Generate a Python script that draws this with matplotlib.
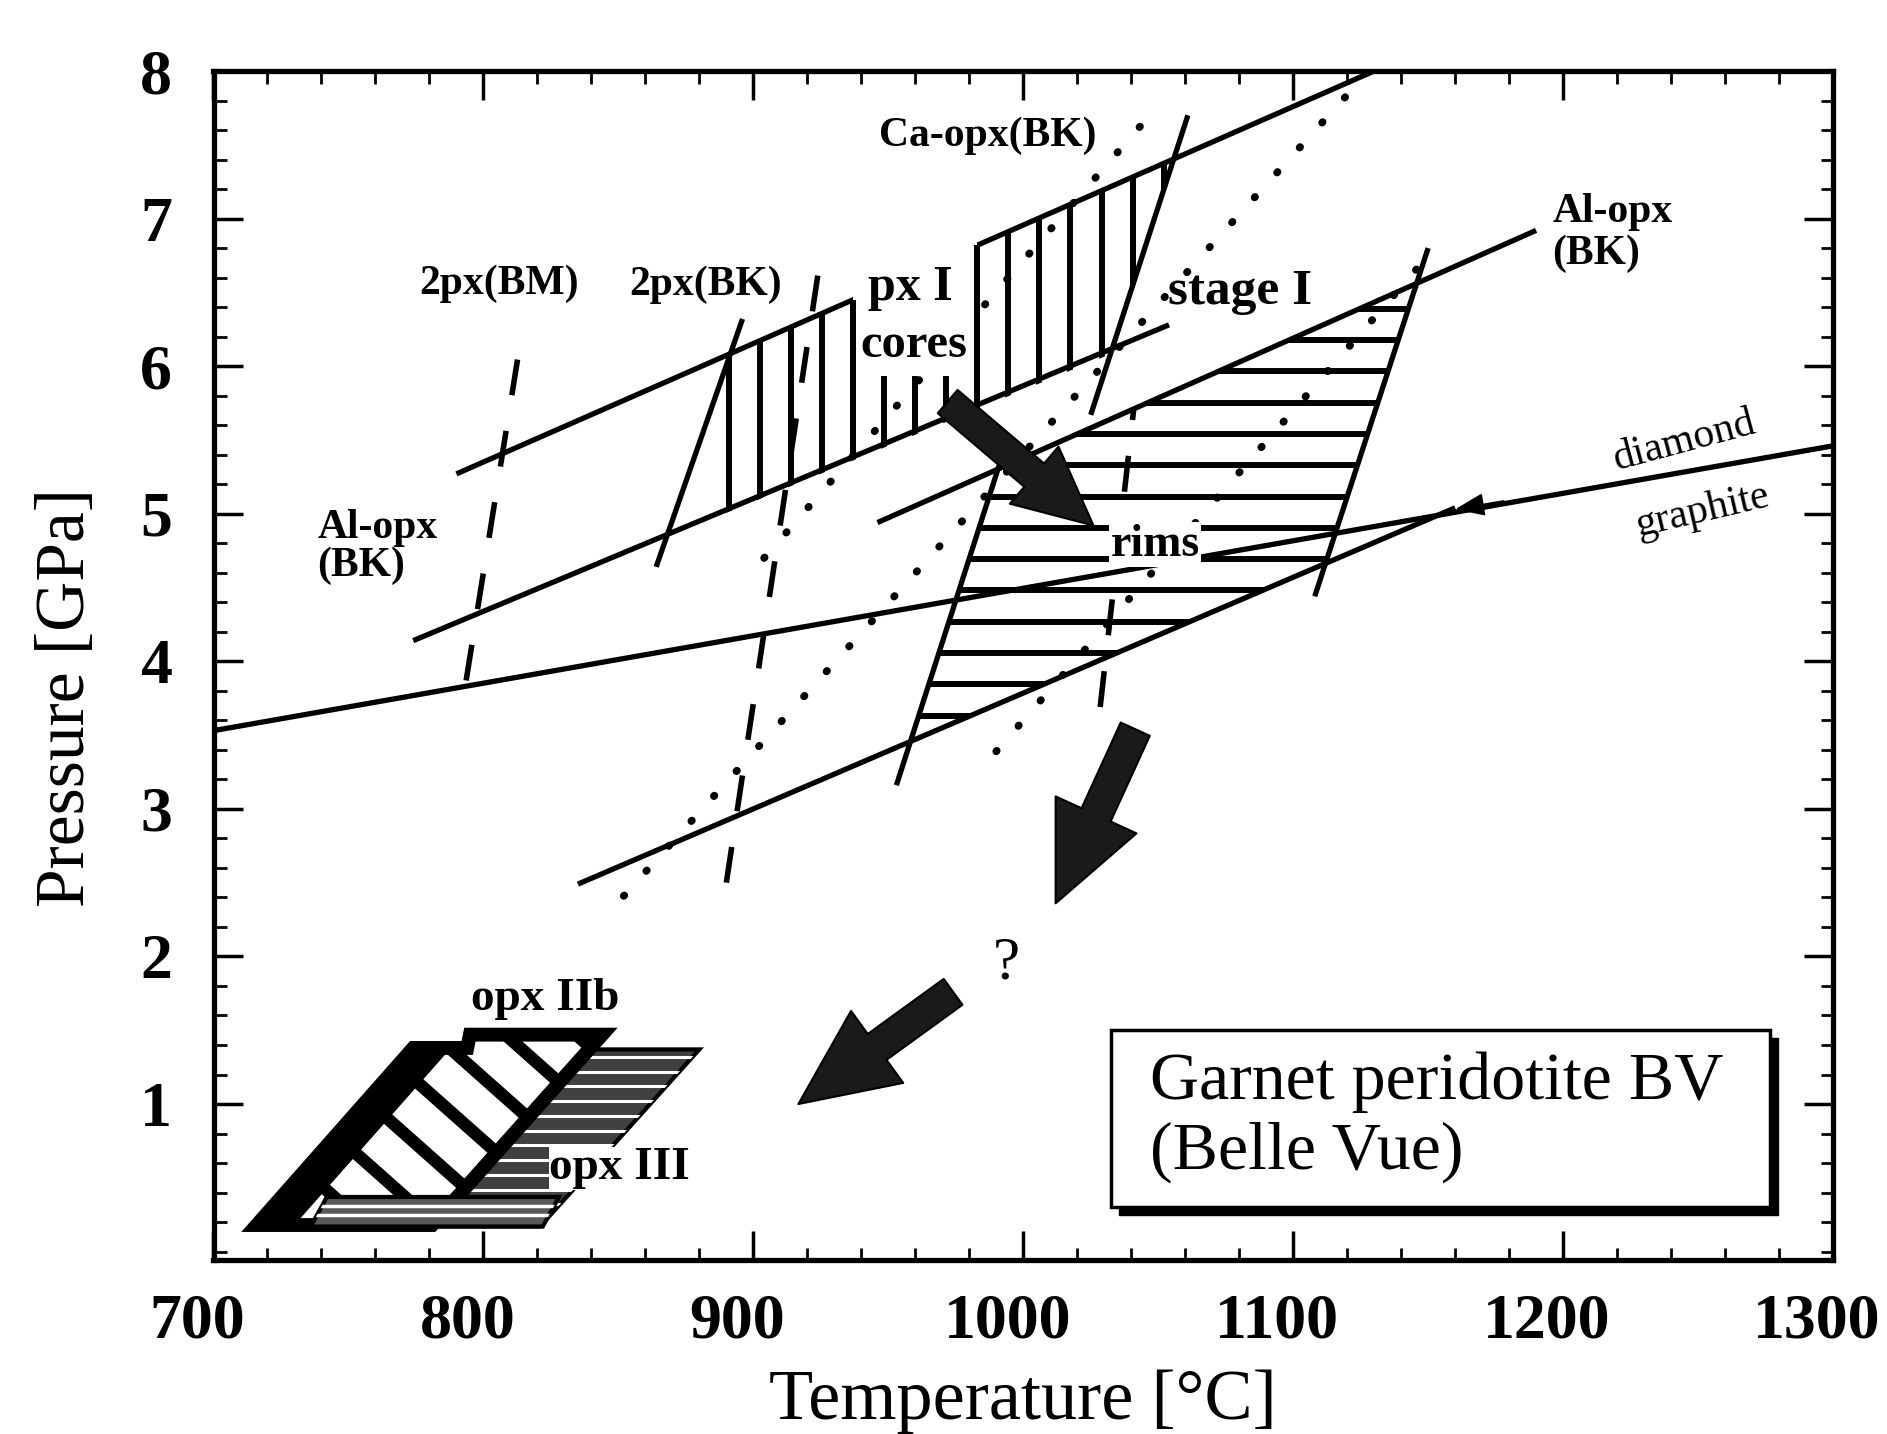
import numpy as np
import matplotlib
matplotlib.use('Agg')
import matplotlib.pyplot as plt
import matplotlib.transforms as mtransforms
from matplotlib.patches import Polygon, Rectangle
from matplotlib.ticker import MultipleLocator

plt.rcParams['font.family'] = ['Liberation Serif', 'DejaVu Serif']

# ---------------- data (T in degC, P in GPa) ----------------
x_ticks = [700, 800, 900, 1000, 1100, 1200, 1300]
y_ticks = [1, 2, 3, 4, 5, 6, 7, 8]

graphite_T = [700, 1300];       graphite_P = [3.53, 5.46]
alopx1_T = [790, 1130];         alopx1_P = [5.27, 8.0]
alopx2_T = [774, 1054];         alopx2_P = [4.14, 6.28]
alopx3_T = [946, 1190];         alopx3_P = [4.94, 6.92]
alopx4_T = [835, 1160];         alopx4_P = [2.49, 5.04]
twopx_bk_T = [864, 896];        twopx_bk_P = [4.64, 6.32]
caopx_T = [1025, 1061];         caopx_P = [5.67, 7.70]
steepL_T = [953, 992];          steepL_P = [3.16, 5.38]
steepR_T = [1108, 1150];        steepR_P = [4.44, 6.80]

dash_bm_T = [793.6, 814.7];     dash_bm_P = [3.87, 6.28]
dash_bk_T = [890, 925];         dash_bk_P = [2.50, 6.75]
dash_rim_T = [1028.5, 1041];    dash_rim_P = [3.69, 5.72]

dotB_T = [852, 1128];           dotB_P = [2.41, 8.0]
dotE_T = [990, 1153];           dotE_P = [3.39, 6.81]
dotF_T = [904, 1045];           dotF_P = [4.70, 7.66]

# hatched fields
pxI_T = [868, 891, 1056, 1032];         pxI_P = [4.84, 6.08, 7.40, 6.08]
stageI_T = [958, 990.6, 1145.6, 1112];  stageI_P = [3.46, 5.30, 6.55, 4.66]
cores_gap_T = [937, 983];               cores_gap_P = [5.93, 7.2]
cores_gap_top = [6.45, 6.82]

opx2b_T = [716, 774, 794, 795, 844, 781]; opx2b_P = [0.18, 1.38, 1.38, 1.47, 1.47, 0.18]
opx3_T = [738, 821, 880, 797];            opx3_P = [0.17, 0.17, 1.37, 1.37]
opx3s_T = [736, 822, 828, 742];           opx3s_P = [0.17, 0.17, 0.37, 0.37]

# arrows: (tail T, tail P, tip T, tip P)
arrow1 = (972, 5.76, 1026, 4.92)
arrow2 = (1041.5, 3.54, 1012, 2.36)
arrow3 = (974, 1.76, 916.7, 1.0)
small_arrow = (1178, 5.085, 1160, 5.03)

bold_labels = ["2px(BM)", "2px(BK)", "Ca-opx(BK)", "px I", "cores", "stage I",
               "rims", "opx IIb", "opx III"]
bold_T = [805.8, 882.4, 987.0, 958.3, 959.5, 1080.4, 1048.8, 823, 850.5]
bold_P = [6.56, 6.55, 7.56, 6.53, 6.14, 6.50, 4.79, 1.71, 0.565]
bold_size = [30, 30, 30, 36, 35, 37, 33, 34, 34]

# ---------------- figure ----------------
fig = plt.figure(figsize=(18.87, 14.34), dpi=100)
ax = fig.add_axes([213.5/1887, 1-1260/1434, 1619.5/1887, 1189/1434])
ax.set_xlim(700, 1300)
ax.set_ylim(-0.057, 8.0)

LW = 3.8
HLW = 4.3


def clip_segs(patch, segs, **kw):
    for (a, b) in segs:
        ln, = ax.plot([a[0], b[0]], [a[1], b[1]], solid_capstyle='butt', **kw)
        ln.set_clip_path(patch)


def diag_segs(verts, angle_deg, spacing):
    pts = ax.transData.transform(verts)
    c = pts.mean(axis=0)
    R = np.max(np.hypot(*(pts - c).T)) * 1.5
    a = np.radians(angle_deg)
    d = np.array([np.cos(a), np.sin(a)])
    n = np.array([-d[1], d[0]])
    inv = ax.transData.inverted()
    segs = []
    m = int(R / spacing) + 2
    for k in range(-m, m + 1):
        p0 = c + n * k * spacing - d * R
        p1 = c + n * k * spacing + d * R
        q = inv.transform([p0, p1])
        segs.append((q[0], q[1]))
    return segs


# --- px I field (vertical hatch) ---
pxI = Polygon(list(zip(pxI_T, pxI_P)), closed=True, fc='none', ec='none', zorder=2)
ax.add_patch(pxI)
vT = np.arange(891, 1060, 11.5)
clip_segs(pxI, [((t, 0), (t, 8)) for t in vT], color='black', lw=HLW, zorder=2)

# --- stage I / rims field (horizontal hatch) ---
stI = Polygon(list(zip(stageI_T, stageI_P)), closed=True, fc='none', ec='none', zorder=2)
ax.add_patch(stI)
hP = np.arange(3.42, 6.7, 0.212)
clip_segs(stI, [((700, p), (1300, p)) for p in hP], color='black', lw=HLW, zorder=2)

# --- solid lines ---
for T, P in [(graphite_T, graphite_P), (alopx1_T, alopx1_P), (alopx2_T, alopx2_P),
             (alopx3_T, alopx3_P), (alopx4_T, alopx4_P), (twopx_bk_T, twopx_bk_P),
             (caopx_T, caopx_P), (steepL_T, steepL_P), (steepR_T, steepR_P)]:
    ax.plot(T, P, color='black', lw=LW, solid_capstyle='butt', zorder=3)

# --- dashed lines ---
for T, P in [(dash_bm_T, dash_bm_P), (dash_bk_T, dash_bk_P), (dash_rim_T, dash_rim_P)]:
    ax.plot(T, P, color='black', lw=4.0, linestyle=(0, (6.5, 6.5)), dash_capstyle='butt', zorder=3)

# --- dotted lines ---
for T, P in [(dotB_T, dotB_P), (dotE_T, dotE_P), (dotF_T, dotF_P)]:
    ax.plot(T, P, color='black', lw=5.5, linestyle=(0, (0.1, 4.3)), dash_capstyle='round', zorder=3)

# --- white gap for px I / cores labels ---
ax.add_patch(Rectangle((cores_gap_T[0], cores_gap_P[0]), cores_gap_T[1] - cores_gap_T[0],
                       cores_gap_P[1] - cores_gap_P[0], fc='white', ec='none', zorder=4))
for t, top in zip(cores_gap_T, cores_gap_top):
    ax.plot([t, t], [cores_gap_P[0], top], color='black', lw=HLW, solid_capstyle='butt', zorder=4)

# --- labels ---
for s, t, p, fs in zip(bold_labels, bold_T, bold_P, bold_size):
    kw = {}
    z = 5
    if s == "rims":
        kw['bbox'] = dict(fc='white', ec='none', pad=1)
    if s == "opx III":
        kw['bbox'] = dict(fc='white', ec='none', pad=0.5)
        z = 12
    ax.text(t, p, s, ha='center', va='center', fontsize=fs, fontweight='bold', zorder=z, **kw)

ax.text(738.5, 4.90, "Al-opx", ha='left', va='center', fontsize=30, fontweight='bold', zorder=5)
ax.text(738.5, 4.645, "(BK)", ha='left', va='center', fontsize=30, fontweight='bold', zorder=5)
ax.text(1196, 7.045, "Al-opx", ha='left', va='center', fontsize=30, fontweight='bold', zorder=5)
ax.text(1196, 6.76, "(BK)", ha='left', va='center', fontsize=30, fontweight='bold', zorder=5)
ax.text(1244.8, 5.49, "diamond", ha='center', va='center', fontsize=30, rotation=15, zorder=5)
ax.text(1251.7, 5.02, "graphite", ha='center', va='center', fontsize=30, rotation=13, zorder=5)
ax.text(993.8, 1.95, "?", ha='center', va='center', fontsize=44, zorder=5)

# --- arrows ---
for (t0, p0, t1, p1), hl, hw, tw in [(arrow1, 2.8, 2.7, 1.1), (arrow2, 3.5, 3.2, 1.15),
                                     (arrow3, 3.5, 3.2, 1.15)]:
    ax.annotate('', xy=(t1, p1), xytext=(t0, p0), zorder=6,
                arrowprops=dict(arrowstyle=f"simple,head_length={hl},head_width={hw},tail_width={tw}",
                                mutation_scale=20, fc='0.1', ec='black', lw=1.5,
                                shrinkA=0, shrinkB=0))
t0, p0, t1, p1 = small_arrow
ax.annotate('', xy=(t1, p1), xytext=(t0, p0), zorder=6,
            arrowprops=dict(arrowstyle="-|>,head_length=0.9,head_width=0.35", mutation_scale=20,
                            fc='black', ec='black', lw=1.5, shrinkA=0, shrinkB=0))

# --- opx III (horizontal grey stripes) ---
opx3 = Polygon(list(zip(opx3_T, opx3_P)), closed=True, fc='0.25', ec='black', lw=3, zorder=7)
ax.add_patch(opx3)
clip_segs(opx3, [((700, p), (900, p)) for p in np.arange(0.22, 1.4, 0.1)], color='white', lw=2.2, zorder=7)

# --- opx IIb (diagonal stripes, thick border) ---
verts2b = list(zip(opx2b_T, opx2b_P))
opx2b = Polygon(verts2b, closed=True, fc='white', ec='black', lw=10, zorder=8)
ax.add_patch(opx2b)
clip_segs(opx2b, diag_segs(verts2b, -41.6, 47), color='black', lw=9, zorder=8)
band = Polygon([(716, 0.18), (774, 1.38), (788, 1.38), (730, 0.18)], closed=True,
               fc='black', ec='none', zorder=8)
ax.add_patch(band)

# bottom strip of opx III in front
opx3s = Polygon(list(zip(opx3s_T, opx3s_P)), closed=True, fc='0.35', ec='black', lw=3, zorder=9)
ax.add_patch(opx3s)
clip_segs(opx3s, [((700, p), (900, p)) for p in [0.25, 0.31]], color='white', lw=2.5, zorder=9)

# --- sample box ---
ax.add_patch(Rectangle((1035.6, 0.245), 243.9, 1.2, fc='black', ec='black', zorder=9))
ax.add_patch(Rectangle((1032.6, 0.30), 243.9, 1.2, fc='white', ec='black', lw=2.5, zorder=10))
ax.text(1046.8, 1.15, "Garnet peridotite BV", ha='left', va='center', fontsize=49, zorder=11)
ax.text(1046.8, 0.67, "(Belle Vue)", ha='left', va='center', fontsize=49, zorder=11)

# --- axes styling ---
ax.set_xticks(x_ticks)
ax.set_yticks(y_ticks)
ax.xaxis.set_minor_locator(MultipleLocator(20))
ax.yaxis.set_minor_locator(MultipleLocator(0.2))
ax.tick_params(which='major', direction='in', length=21, width=2.5, top=True, right=True, labelsize=46)
ax.tick_params(which='minor', direction='in', length=9, width=2, top=True, right=True)
ax.tick_params(axis='x', which='major', pad=24)
ax.tick_params(axis='y', which='major', pad=30)
shift = mtransforms.ScaledTranslation(-16 / 100, 0, fig.dpi_scale_trans)
for lab in ax.get_xticklabels():
    lab.set_fontweight('bold')
    lab.set_transform(lab.get_transform() + shift)
for lab in ax.get_yticklabels():
    lab.set_fontweight('bold')
for sp in ax.spines.values():
    sp.set_linewidth(3.8)

ax.set_xlabel("Temperature [°C]", fontsize=52)
ax.set_ylabel("Pressure [GPa]", fontsize=50)
ax.xaxis.set_label_coords(0.5, -0.092)
ax.yaxis.set_label_coords(-0.071, 0.473)

fig.savefig("out.png", dpi=100)
